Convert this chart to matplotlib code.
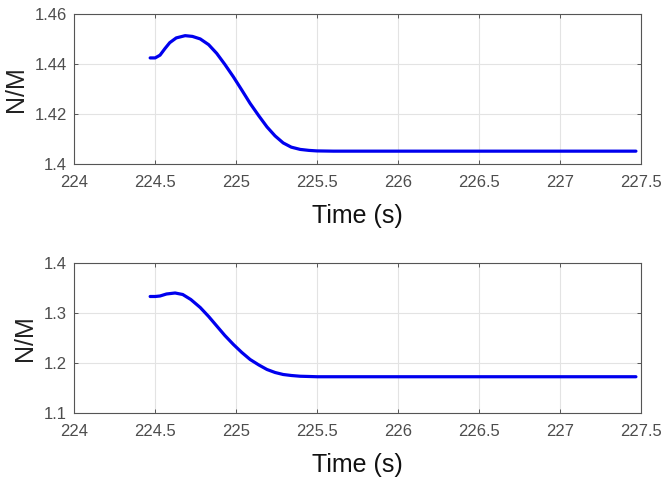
import matplotlib
matplotlib.use("Agg")
from matplotlib import pyplot as plt

plt.rcParams['font.family'] = ['Liberation Sans', 'DejaVu Sans']

# values
t1 = [224.469, 224.50, 224.53, 224.56, 224.59, 224.63, 224.685, 224.73, 224.778, 224.83,
      224.88, 224.93, 224.983, 225.035, 225.086, 225.14, 225.19, 225.24, 225.29, 225.34,
      225.395, 225.45, 225.498, 225.6, 226.0, 226.5, 227.0, 227.467]
y1 = [1.4425, 1.4425, 1.4436, 1.4462, 1.4486, 1.4505, 1.4514, 1.4511, 1.4501, 1.4478,
      1.4443, 1.4399, 1.4349, 1.4296, 1.4243, 1.4193, 1.4149, 1.4113, 1.4085, 1.4068,
      1.4059, 1.4055, 1.4053, 1.4052, 1.4052, 1.4052, 1.4052, 1.4052]

t2 = [224.469, 224.50, 224.53, 224.57, 224.623, 224.67, 224.72, 224.778, 224.83, 224.88,
      224.93, 224.983, 225.035, 225.086, 225.14, 225.19, 225.24, 225.29, 225.34, 225.395,
      225.45, 225.5, 225.6, 226.0, 226.5, 227.0, 227.467]
y2 = [1.333, 1.333, 1.334, 1.338, 1.340, 1.337, 1.327, 1.311, 1.293, 1.274,
      1.255, 1.237, 1.221, 1.207, 1.196, 1.187, 1.181, 1.177, 1.175, 1.1735,
      1.173, 1.1725, 1.1725, 1.1725, 1.1725, 1.1725, 1.1725]

xticks = [224, 224.5, 225, 225.5, 226, 226.5, 227, 227.5]
xticklabels = ['224', '224.5', '225', '225.5', '226', '226.5', '227', '227.5']
yticks1 = [1.4, 1.42, 1.44, 1.46]
yticklabels1 = ['1.4', '1.42', '1.44', '1.46']
yticks2 = [1.1, 1.2, 1.3, 1.4]
yticklabels2 = ['1.1', '1.2', '1.3', '1.4']

fig = plt.figure(figsize=(6.68, 4.80), dpi=100)
ax1 = fig.add_axes([0.111, 0.658, 0.849, 0.3125])
ax2 = fig.add_axes([0.111, 0.1396, 0.849, 0.3125])

for ax, t, y, yt, ytl in [(ax1, t1, y1, yticks1, yticklabels1),
                          (ax2, t2, y2, yticks2, yticklabels2)]:
    ax.plot(t, y, color='#0000ee', linewidth=2.3, solid_capstyle='round')
    ax.set_xlim(224, 227.5)
    ax.set_ylim(yt[0], yt[-1])
    ax.set_xticks(xticks)
    ax.set_xticklabels(xticklabels)
    ax.set_yticks(yt)
    ax.set_yticklabels(ytl)
    ax.grid(True, color='#e3e3e3', linewidth=0.8)
    ax.set_axisbelow(True)
    ax.tick_params(direction='in', top=True, right=True, length=3, width=0.7,
                   colors='#555555', labelsize=12, labelcolor='#4d4d4d')
    ax.tick_params(axis='x', pad=8)
    ax.tick_params(axis='y', pad=5)
    for s in ax.spines.values():
        s.set_color('#555555')
        s.set_linewidth(0.8)
    ax.set_xlabel('Time (s)', fontsize=18, color='#111111', labelpad=10)
    ax.set_ylabel('N/M', fontsize=18, color='#222222', labelpad=5)

plt.savefig('out.png', dpi=100)
